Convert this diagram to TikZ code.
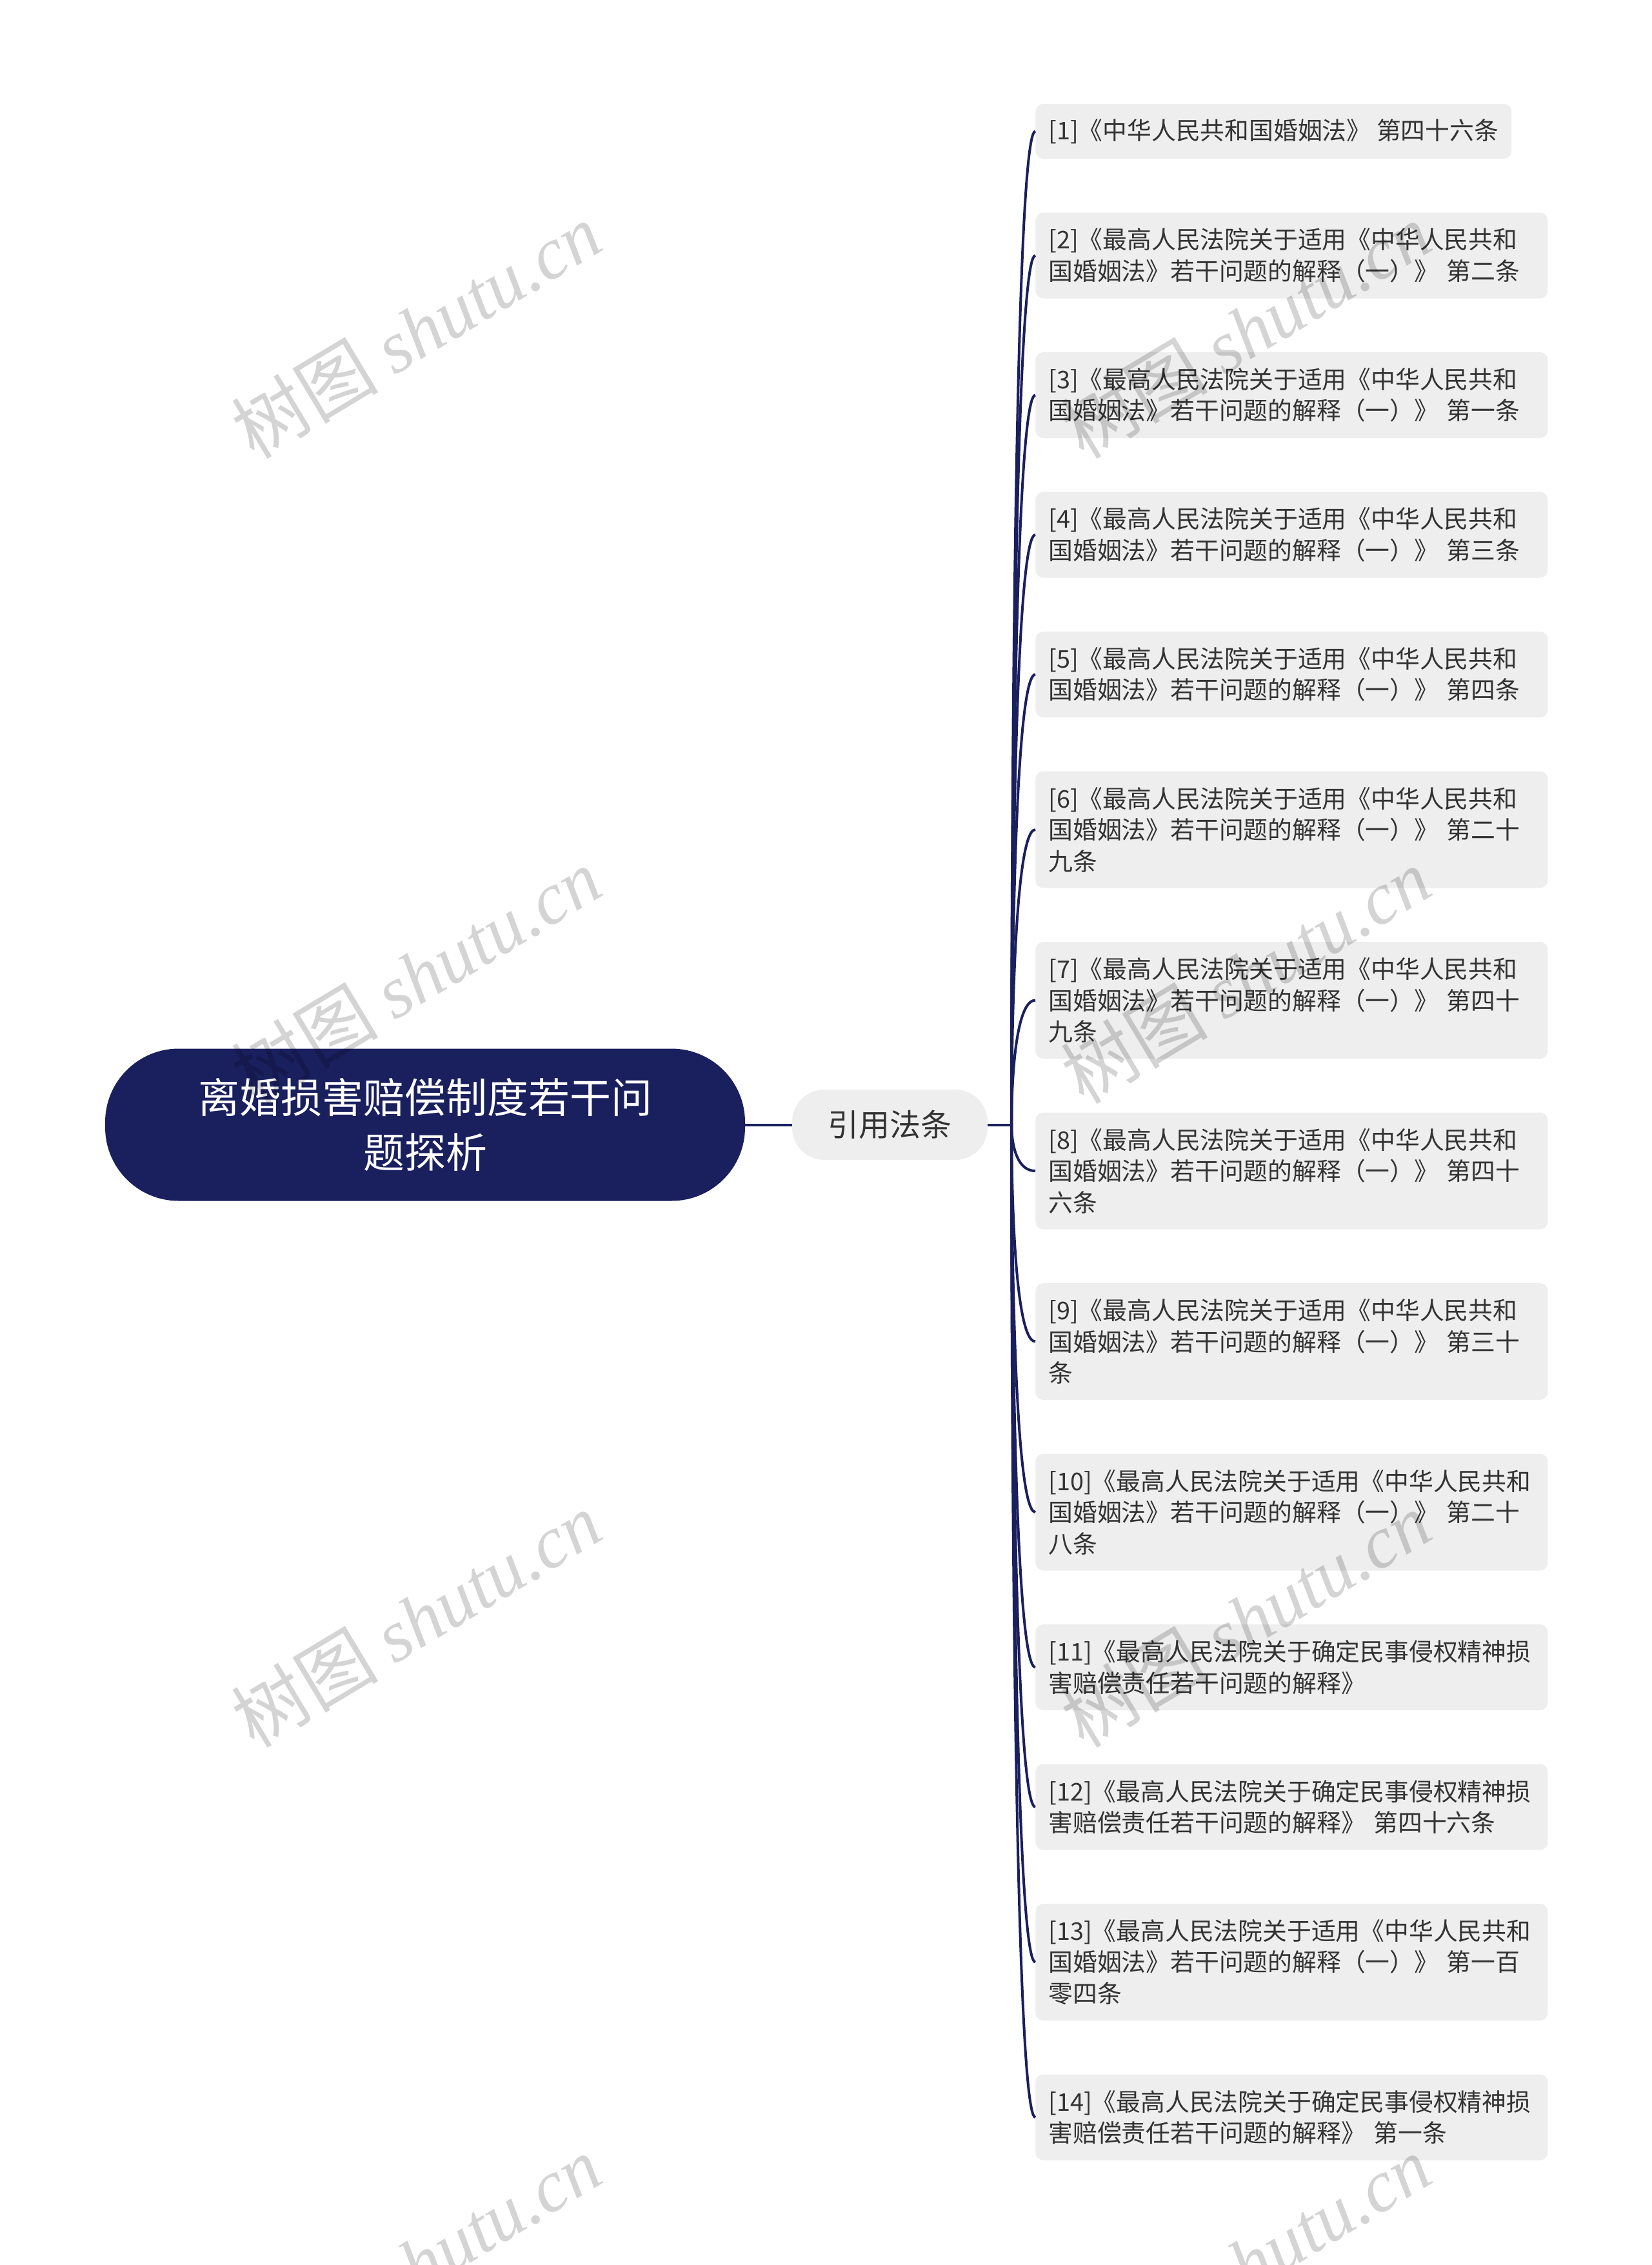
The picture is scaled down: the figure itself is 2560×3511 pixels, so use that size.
\documentclass[tikz,border=0pt]{standalone}
\usepackage{fontspec}
\setmainfont{Noto Sans CJK SC}
\newfontfamily\wmcjk{Noto Sans CJK SC}
\newfontfamily\wmlat{Liberation Serif}
\usetikzlibrary{calc}
\definecolor{navy}{HTML}{1A1F5E}
\definecolor{leafgray}{HTML}{EEEEEE}
\definecolor{txt}{HTML}{333333}
\tikzset{
  leafbox/.style={fill=leafgray, rounded corners=6pt, anchor=west, inner xsep=10pt, inner ysep=0pt,
    font=\fontsize{18.9}{24.25}\selectfont, text=txt, align=left},
  widebox/.style={text width=377pt},
  oneline/.style={minimum height=42.5pt},
  twoline/.style={minimum height=66.5pt},
  threeline/.style={minimum height=90.5pt},
  link/.style={draw=navy, line width=2pt},
  rootbox/.style={fill=navy, text=white, rounded corners=57pt, minimum width=496pt, minimum height=118pt,
    align=center, font=\fontsize{32}{42.5}\selectfont, inner sep=0pt},
  midbox/.style={fill=leafgray, text=txt, rounded corners=25pt, minimum width=151.5pt, minimum height=54.5pt,
    font=\fontsize{24}{30}\selectfont, inner sep=0pt},
  watermark/.style={rotate=31, text=black, text opacity=0.17, font=\fontsize{57}{57}\selectfont, inner sep=0pt}
}
\begin{document}
\begin{tikzpicture}[x=0.5pt,y=-0.5pt]
\fill[white] (0,0) rectangle (2560,3511);
\useasboundingbox (0,0) rectangle (2560,3511);

\node[rootbox] (root) at (659,1743.5) {离婚损害赔偿制度若干问\\题探析};
\node[midbox] (mid) at (1379.5,1743.5) {引用法条};
\coordinate (hub) at (1568,1743.5);

\node[leafbox,oneline] (L1) at (1605,203.5) {[1]《中华人民共和国婚姻法》 第四十六条};
\node[leafbox,widebox,twoline] (L2) at (1605,396) {[2]《最高人民法院关于适用《中华人民共和\\国婚姻法》若干问题的解释（一）》 第二条};
\node[leafbox,widebox,twoline] (L3) at (1605,612.5) {[3]《最高人民法院关于适用《中华人民共和\\国婚姻法》若干问题的解释（一）》 第一条};
\node[leafbox,widebox,twoline] (L4) at (1605,829) {[4]《最高人民法院关于适用《中华人民共和\\国婚姻法》若干问题的解释（一）》 第三条};
\node[leafbox,widebox,twoline] (L5) at (1605,1045.5) {[5]《最高人民法院关于适用《中华人民共和\\国婚姻法》若干问题的解释（一）》 第四条};
\node[leafbox,widebox,threeline] (L6) at (1605,1286) {[6]《最高人民法院关于适用《中华人民共和\\国婚姻法》若干问题的解释（一）》 第二十\\九条};
\node[leafbox,widebox,threeline] (L7) at (1605,1550.5) {[7]《最高人民法院关于适用《中华人民共和\\国婚姻法》若干问题的解释（一）》 第四十\\九条};
\node[leafbox,widebox,threeline] (L8) at (1605,1815) {[8]《最高人民法院关于适用《中华人民共和\\国婚姻法》若干问题的解释（一）》 第四十\\六条};
\node[leafbox,widebox,threeline] (L9) at (1605,2079.5) {[9]《最高人民法院关于适用《中华人民共和\\国婚姻法》若干问题的解释（一）》 第三十\\条};
\node[leafbox,widebox,threeline] (L10) at (1605,2344) {[10]《最高人民法院关于适用《中华人民共和\\国婚姻法》若干问题的解释（一）》 第二十\\八条};
\node[leafbox,widebox,twoline] (L11) at (1605,2584.5) {[11]《最高人民法院关于确定民事侵权精神损\\害赔偿责任若干问题的解释》};
\node[leafbox,widebox,twoline] (L12) at (1605,2801) {[12]《最高人民法院关于确定民事侵权精神损\\害赔偿责任若干问题的解释》 第四十六条};
\node[leafbox,widebox,threeline] (L13) at (1605,3041.5) {[13]《最高人民法院关于适用《中华人民共和\\国婚姻法》若干问题的解释（一）》 第一百\\零四条};
\node[leafbox,widebox,twoline] (L14) at (1605,3282) {[14]《最高人民法院关于确定民事侵权精神损\\害赔偿责任若干问题的解释》 第一条};

\draw[link] (root.east) -- (mid.west);
\draw[link] (mid.east) -- (hub);
\foreach \i in {1,...,14}{
  \draw[link] (hub) .. controls ($(hub)!0.07!(hub |- L\i.west)$) and (hub |- L\i.west) .. (L\i.west);
}

\foreach \wx/\wy in {645/512, 645/1512, 645/2510, 645/3508, 1931/512, 1931/1512, 1931/2510, 1931/3508}{
  \node[watermark] (wm) at (\wx,\wy) {{\wmcjk 树图} {\wmlat\itshape shutu.cn}};
}
\end{tikzpicture}
\end{document}
